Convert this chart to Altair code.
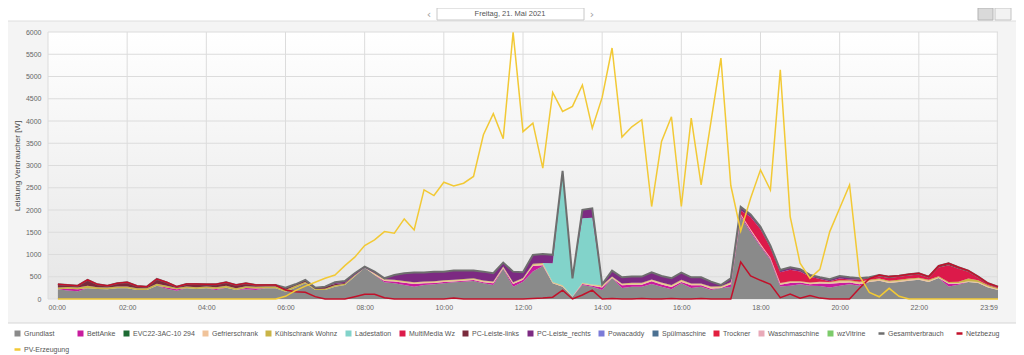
import altair as alt
import pandas as pd

# time stamps (minutes after midnight), 15-minute readings 00:15 ... 24:00
TIMES = list(range(15, 1441, 15))
X_TICKS = list(range(0, 1440, 120)) + [1439]
Y_TICKS = list(range(0, 6001, 500))

NAMES = ["Grundlast", "BettAnke", "EVC22-3AC-10 294", "Gefrierschrank", "Kühlschrank Wohnz",
         "Ladestation", "MultiMedia Wz", "PC-Leiste-links", "PC-Leiste_rechts", "Powacaddy",
         "Spülmaschine", "Trockner", "Waschmaschine", "wzVitrine",
         "Gesamtverbrauch", "Netzbezug", "PV-Erzeugung"]
COLORS = ["#8a8a8a", "#c81c9e", "#1d6b33", "#f0c39a", "#c9b447",
          "#82d3ca", "#dc1a4a", "#7a2a3c", "#7c2a82", "#7b7bd8",
          "#4b7192", "#e2203f", "#e8a9b8", "#7ccb6a",
          "#6e6e6e", "#c2102a", "#f2c935"]

grundlast = [218, 190, 175, 240, 225, 218, 240, 240, 203, 203, 300, 230, 185, 240, 225, 240, 200, 255, 203, 220,
             205, 240, 240, 165, 255, 353, 203, 203, 278, 315, 503, 705, 540, 375, 353, 315, 278, 315, 330, 353,
             375, 390, 405, 353, 315, 680, 278, 390,
             620, 740, 353, 278, 50, 315, 278, 200, 473, 248, 278, 278, 338, 278, 218, 353, 248, 278, 203, 248,
             270, 1850, 1500, 1180, 880, 280, 300, 330, 300, 290, 260, 300, 330, 300, 380, 410, 360, 380, 410, 430,
             380, 470, 280, 320, 380, 360, 260, 200]
bettanke = [0, 40, 45, 0, 0, 0, 0, 0, 0, 0, 0, 30, 35, 0, 0, 0, 25, 0, 0, 25,
            30, 0, 0, 0, 0, 0, 0, 0, 0, 0, 0, 0, 0, 30, 40, 50, 60, 40, 30, 30,
            20, 20, 20, 25, 40, 10, 60, 40,
            120, 20, 0, 0, 0, 20, 20, 60, 0, 60, 40, 40, 60, 50, 50, 30, 60, 30, 30, 0,
            60, 40, 40, 30, 30, 40, 60, 40, 30, 60, 80, 60, 40, 30, 0, 0, 0, 0, 0, 0,
            0, 0, 60, 20, 0, 0, 0, 0]
gefrier = [0] * 30 + [10, 0] + [25] * 16 + \
          [30, 30, 20, 20, 10, 20, 20, 30, 20, 30, 30, 30, 30, 30, 30, 30, 30, 30, 30, 20,
           30, 20, 30, 30, 20, 30, 30, 20, 30, 30, 30, 40, 30, 40, 30, 30, 30, 30, 30, 30,
           30, 20, 20, 20, 20, 20, 20, 20]
kuehl = [40, 40, 40, 55, 40, 40, 40, 40, 40, 40, 40, 40, 30, 40, 40, 40, 40, 40, 40, 40,
         40, 40, 40, 40, 40, 30, 20, 30, 30, 25, 20, 0, 15, 15, 15, 15, 15, 15, 15, 15,
         15, 15, 15, 15, 15, 15, 15, 15,
         20, 20, 10, 10, 0, 10, 10, 20, 10, 10, 15, 15, 12, 15, 17, 20, 10, 10, 17, 17,
         15, 0, 0, 0, 0, 10, 10, 10, 10, 10, 10, 20, 20, 20, 20, 20, 20, 20, 20, 20,
         20, 20, 20, 30, 60, 40, 30, 20]
ladestation = [0] * 50 + [420, 2522, 405, 1450, 1500] + [0] * 41
multimedia = [0] * 69 + [80, 270, 330, 230, 240, 260, 220, 130, 60, 20, 40, 20, 40, 30, 50, 60, 70, 70, 70, 50,
                         200, 380, 290, 150, 60, 20, 20]
pc_links = [72, 45, 40, 133, 65, 42, 73, 95, 50, 35, 110, 75, 28, 58, 73, 50, 65, 80, 72, 68,
            40, 35, 35, 50, 35, 45, 32, 45, 30, 20] + [0] * 52 + \
           [28, 30, 33, 25, 25, 28, 23, 33, 43, 33, 28, 23, 23, 18]
pc_rechts = [0] * 28 + [37, 45, 45, 23, 35, 20, 107, 173, 215, 198, 215, 192, 203, 188, 173, 197, 183, 88, 237, 130,
                        200, 200, 190, 50, 0, 190, 210, 20, 135, 140, 140, 140, 160, 145, 150, 160, 140, 140, 110, 30,
                        90, 80, 60, 50, 40, 50, 53, 48, 40, 38, 43, 58, 48, 35] + [0] * 14
zero = [0] * 96

netzbezug = [330, 315, 300, 428, 330, 300, 353, 375, 293, 278, 450, 375, 278, 338, 338, 330, 330, 375, 315, 353,
             315, 315, 315,
             200, 165, 150, 53, 0, 0, 0, 50, 105, 105, 30, 0, 0, 0, 0, 0, 0, 20, 0, 0, 0, 0, 0, 0, 0,
             10, 20, 40, 200, 0, 90, 200, 0, 10, 0, 0, 10, 0, 0, 10, 0, 0, 10, 0, 0, 0, 830, 520, 420, 330,
             30, 110, 20, 80, 20, 0, 0, 0, 240, 455,
             540, 503, 525, 555, 578, 503, 743, 803, 713, 638, 503, 353, 278]
pv = [0] * 23 + [60, 190, 290, 375, 465, 540, 750, 940, 1200, 1330,
                 1515, 1480, 1800, 1553, 2453, 2325, 2625, 2542, 2602, 2753,
                 3690, 4163, 3600, 5993, 3760, 3952, 2940, 4643, 4215, 4328,
                 4810, 3840, 4530, 5640, 3638, 3870, 4028, 2078, 3540, 4095,
                 2078, 4065, 2565, 3990, 5415, 2550, 1530, 2265, 2903, 2450,
                 5153, 1853, 803, 465, 665, 1515, 2040, 2565, 520, 150,
                 50, 240, 60, 0] + [0] * 9

CONSUMERS = [grundlast, bettanke, zero, gefrier, kuehl, ladestation, multimedia,
             pc_links, pc_rechts, zero, zero, zero, zero, zero]

rows = []
for i, vals in enumerate(CONSUMERS):
    for m, v in zip(TIMES, vals):
        rows.append({"min": m, "series": NAMES[i], "value": v, "idx": i})
stack_df = pd.DataFrame(rows)
netz_df = pd.DataFrame({"min": TIMES, "series": "Netzbezug", "value": netzbezug})
pv_df = pd.DataFrame({"min": TIMES, "series": "PV-Erzeugung", "value": pv})
xgrid_df = pd.DataFrame({"min": X_TICKS})
ygrid_df = pd.DataFrame({"value": Y_TICKS})
deco_df = pd.DataFrame({"a": [0]})

FONT = "Liberation Sans"
XSCALE = alt.Scale(domain=[0, 1440], nice=False, zero=False)
YSCALE = alt.Scale(domain=[0, 6000], nice=False)
xaxis = alt.Axis(values=X_TICKS,
                 labelExpr="datum.value >= 1439 ? '23:59' : (datum.value < 600 ? '0' : '') + floor(datum.value / 60) + ':00'",
                 title=None, grid=False, domain=False, ticks=False,
                 labelFontSize=7, labelColor="#666666", labelFont=FONT, labelPadding=4)
yaxis = alt.Axis(values=Y_TICKS, format="d", title="Leistung Verbraucher [W]",
                 grid=False, domain=False, ticks=False,
                 labelFontSize=7, labelColor="#666666", labelFont=FONT, labelPadding=7,
                 titleFont=FONT, titleFontSize=8, titleFontWeight="normal", titleColor="#444444",
                 titlePadding=4)

is_line = "indexof(['Gesamtverbrauch','Netzbezug','PV-Erzeugung'], datum.value) >= 0"
leg = alt.Legend(title=None, orient="none", legendX=-34, legendY=298, direction="horizontal",
                 columns=16, columnPadding=7, rowPadding=5, symbolSize=36, labelFontSize=7,
                 gridAlign="none",
                 labelFont=FONT, labelColor="#555555", labelOffset=3, padding=0, zindex=1,
                 symbolType=alt.ExprRef(expr=f"{is_line} ? 'stroke' : 'square'"),
                 symbolStrokeWidth=alt.ExprRef(expr=f"{is_line} ? 2.5 : 0"),
                 symbolStrokeColor=alt.ExprRef(expr="scale('color', datum.value)"),
                 symbolFillColor=alt.ExprRef(expr="scale('color', datum.value)"),
                 symbolOpacity=1)

X = alt.X("min:Q", scale=XSCALE, axis=xaxis)
Y = alt.Y("value:Q", scale=YSCALE, axis=yaxis)
COLOR = alt.Color("series:N", scale=alt.Scale(domain=NAMES, range=COLORS), legend=leg)

grad = alt.LinearGradient(gradient="linear", x1=0, x2=0, y1=0, y2=1,
                          stops=[alt.GradientStop(color="#ffffff", offset=0),
                                 alt.GradientStop(color="#e6e6e6", offset=1)])
plot_bg = alt.Chart(deco_df).mark_rect(fill=grad).encode(
    x=alt.value(0), x2=alt.value(950), y=alt.value(0), y2=alt.value(267))
xgrid = alt.Chart(xgrid_df).mark_rule(color="#dcdcdc", strokeWidth=1).encode(x=X)
ygrid = alt.Chart(ygrid_df).mark_rule(color="#dcdcdc", strokeWidth=1).encode(y=Y)

areas = alt.Chart(stack_df).mark_area(interpolate="linear").encode(
    x=X, y=alt.Y("value:Q", stack="zero", scale=YSCALE, axis=yaxis),
    color=COLOR, order=alt.Order("idx:Q", sort="ascending"))

gesamt = alt.Chart(stack_df).transform_aggregate(
    value="sum(value)", groupby=["min"]
).transform_calculate(series="'Gesamtverbrauch'").mark_line(strokeWidth=2).encode(x=X, y=Y, color=COLOR)

netz = alt.Chart(netz_df).mark_line(strokeWidth=1.5).encode(x=X, y=Y, color=COLOR)
pvl = alt.Chart(pv_df).mark_line(strokeWidth=1.5).encode(x=X, y=Y, color=COLOR)

# header and legend strips (page decoration)
top_strip = alt.Chart(deco_df).mark_rect(fill="#ffffff").encode(
    x=alt.value(-40), x2=alt.value(968), y=alt.value(-24), y2=alt.value(-11))
top_line = alt.Chart(deco_df).mark_rule(color="#dedede").encode(
    x=alt.value(-40), x2=alt.value(968), y=alt.value(-11))
bottom_strip = alt.Chart(deco_df).mark_rect(fill="#ffffff").encode(
    x=alt.value(-40), x2=alt.value(968), y=alt.value(291), y2=alt.value(323))
bottom_line = alt.Chart(deco_df).mark_rule(color="#d6d6d6").encode(
    x=alt.value(-40), x2=alt.value(968), y=alt.value(291))
date_box = alt.Chart(deco_df).mark_rect(fill="#ffffff", stroke="#c8c8c8", strokeWidth=1).encode(
    x=alt.value(389), x2=alt.value(536), y=alt.value(-24), y2=alt.value(-12))
date_text = alt.Chart(deco_df).mark_text(text="Freitag, 21. Mai 2021", fontSize=7.5, font=FONT,
                                         color="#555555", align="center", baseline="middle").encode(
    x=alt.value(462), y=alt.value(-18))
prev_txt = alt.Chart(deco_df).mark_text(text="‹", fontSize=11, font="DejaVu Sans", color="#a0a0a0",
                                        align="center", baseline="middle").encode(x=alt.value(381), y=alt.value(-17))
next_txt = alt.Chart(deco_df).mark_text(text="›", fontSize=11, font="DejaVu Sans", color="#a0a0a0",
                                        align="center", baseline="middle").encode(x=alt.value(544), y=alt.value(-17))
icon1 = alt.Chart(deco_df).mark_rect(fill="#d9d9d9", stroke="#b4b4b4").encode(
    x=alt.value(930), x2=alt.value(945), y=alt.value(-24), y2=alt.value(-12))
icon2 = alt.Chart(deco_df).mark_rect(fill="#f2f2f2", stroke="#c4c4c4").encode(
    x=alt.value(947), x2=alt.value(963), y=alt.value(-24), y2=alt.value(-12))

chart = alt.layer(
    top_strip, top_line, bottom_strip, bottom_line,
    plot_bg, xgrid, ygrid,
    areas, gesamt, netz, pvl,
    date_box, date_text, prev_txt, next_txt, icon1, icon2
).properties(
    width=950, height=267,
    padding={"left": 40, "top": 24, "right": 18, "bottom": 56},
    autosize=alt.AutoSizeParams(type="none"),
    background="#f4f4f4",
).configure_view(stroke="transparent")

chart.save("out.html", embed_options={"renderer": "svg", "actions": False})
